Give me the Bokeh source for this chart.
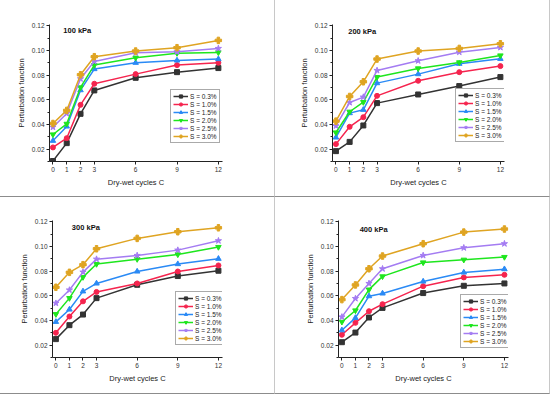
from bokeh.plotting import figure
from bokeh.layouts import column, row
from bokeh.models import Range1d, FixedTicker, Legend, LegendItem, Label, NumeralTickFormatter
from bokeh.embed import file_html
from bokeh.resources import INLINE

# ---------------- data ----------------
cycles = [0, 1, 2, 3, 6, 9, 12]
cycle_ticks = [0, 1, 2, 3, 6, 9, 12]
y_ticks = [0.02, 0.04, 0.06, 0.08, 0.10, 0.12]
series_labels = ["S = 0.3%", "S = 1.0%", "S = 1.5%", "S = 2.0%", "S = 2.5%", "S = 3.0%"]
panel_titles = ["100 kPa", "200 kPa", "300 kPa", "400 kPa"]

kpa100_s03 = [0.0104, 0.0249, 0.0486, 0.0676, 0.0778, 0.0824, 0.0857]
kpa100_s10 = [0.0214, 0.0289, 0.0559, 0.0730, 0.0808, 0.0881, 0.0900]
kpa100_s15 = [0.0268, 0.0384, 0.0678, 0.0849, 0.0900, 0.0919, 0.0930]
kpa100_s20 = [0.0319, 0.0405, 0.0700, 0.0881, 0.0941, 0.0978, 0.0984]
kpa100_s25 = [0.0378, 0.0489, 0.0770, 0.0911, 0.0981, 0.0989, 0.1016]
kpa100_s30 = [0.0408, 0.0514, 0.0803, 0.0949, 0.0995, 0.1022, 0.1081]

kpa200_s03 = [0.0184, 0.0259, 0.0392, 0.0573, 0.0643, 0.0711, 0.0784]
kpa200_s10 = [0.0241, 0.0381, 0.0459, 0.0632, 0.0754, 0.0824, 0.0873]
kpa200_s15 = [0.0295, 0.0492, 0.0519, 0.0735, 0.0808, 0.0892, 0.0932]
kpa200_s20 = [0.0335, 0.0503, 0.0581, 0.0784, 0.0854, 0.0903, 0.0959]
kpa200_s25 = [0.0389, 0.0578, 0.0622, 0.0838, 0.0916, 0.0986, 0.1024]
kpa200_s30 = [0.0427, 0.0627, 0.0746, 0.0930, 0.0995, 0.1016, 0.1054]

kpa300_s03 = [0.0249, 0.0362, 0.0448, 0.0581, 0.0689, 0.0760, 0.0803]
kpa300_s10 = [0.0300, 0.0432, 0.0555, 0.0631, 0.0700, 0.0797, 0.0846]
kpa300_s15 = [0.0389, 0.0489, 0.0636, 0.0700, 0.0797, 0.0857, 0.0900]
kpa300_s20 = [0.0451, 0.0581, 0.0751, 0.0857, 0.0897, 0.0935, 0.0995]
kpa300_s25 = [0.0540, 0.0647, 0.0792, 0.0897, 0.0927, 0.0970, 0.1046]
kpa300_s30 = [0.0669, 0.0790, 0.0852, 0.0981, 0.1065, 0.1119, 0.1151]

kpa400_s03 = [0.0224, 0.0302, 0.0424, 0.0502, 0.0622, 0.0681, 0.0700]
kpa400_s10 = [0.0284, 0.0381, 0.0475, 0.0532, 0.0678, 0.0749, 0.0770]
kpa400_s15 = [0.0321, 0.0421, 0.0597, 0.0619, 0.0716, 0.0789, 0.0816]
kpa400_s20 = [0.0389, 0.0481, 0.0650, 0.0757, 0.0870, 0.0892, 0.0914]
kpa400_s25 = [0.0429, 0.0578, 0.0700, 0.0819, 0.0927, 0.0989, 0.1022]
kpa400_s30 = [0.0569, 0.0688, 0.0819, 0.0922, 0.1022, 0.1116, 0.1141]

# ---------------- style ----------------
FONT = "Liberation Sans"
colors = ["#333333", "#f5244e", "#2a8af5", "#1ee61e", "#a47cf2", "#dfa422"]
markers = ["square", "circle", "triangle", "inverted_triangle", "star", "plus"]
sizes = [5, 5, 5.5, 5.5, 6.5, 6.5]

panels_data = [
    [kpa100_s03, kpa100_s10, kpa100_s15, kpa100_s20, kpa100_s25, kpa100_s30],
    [kpa200_s03, kpa200_s10, kpa200_s15, kpa200_s20, kpa200_s25, kpa200_s30],
    [kpa300_s03, kpa300_s10, kpa300_s15, kpa300_s20, kpa300_s25, kpa300_s30],
    [kpa400_s03, kpa400_s10, kpa400_s15, kpa400_s20, kpa400_s25, kpa400_s30],
]

# per-panel layout: size, (left, right, top, bottom) borders, title pos (data), legend offset (screen)
layouts = [
    dict(wh=(275, 197), b=(49, 53, 24, 36), t=(0.75, 0.1165), lg=(121, 18)),
    dict(wh=(275, 197), b=(57, 46, 24, 36), t=(0.9, 0.1151), lg=(123, 19)),
    dict(wh=(275, 197), b=(52, 53, 23, 37), t=(1.18, 0.1154), lg=(123, 12)),
    dict(wh=(275, 197), b=(63, 42, 23, 37), t=(1.31, 0.1140), lg=(122, 9)),
]
LIGHT = "1px solid #c8c8c8"
DARK = "1px solid #8c8c8c"
outlines = [
    {"border-right": LIGHT, "border-bottom": DARK},
    {"border-right": LIGHT, "border-bottom": DARK},
    {"border-right": LIGHT, "border-bottom": DARK},
    {"border-right": LIGHT, "border-bottom": DARK},
]


def make_panel(i):
    lay = layouts[i]
    w, h = lay["wh"]
    l, r, t, b = lay["b"]
    p = figure(width=w, height=h, output_backend="svg", toolbar_location=None,
               x_range=Range1d(-0.25, 12.3), y_range=Range1d(0.01, 0.121),
               min_border_left=l, min_border_right=r, min_border_top=t, min_border_bottom=b,
               background_fill_color="white", border_fill_color="white")
    p.styles = dict(outlines[i], **{"box-sizing": "border-box"})
    p.outline_line_color = None
    p.grid.visible = False
    p.xaxis.ticker = FixedTicker(ticks=cycle_ticks)
    p.yaxis.ticker = FixedTicker(ticks=y_ticks, minor_ticks=[0.01, 0.03, 0.05, 0.07, 0.09, 0.11])
    p.yaxis.formatter = NumeralTickFormatter(format="0.00")
    p.xaxis.axis_label = "Dry-wet cycles C"
    p.yaxis.axis_label = "Perturbation function"
    for ax in (p.xaxis, p.yaxis):
        ax.axis_line_color = "#222222"
        ax.axis_line_width = 1
        ax.major_tick_line_color = "#222222"
        ax.minor_tick_line_color = "#222222"
        ax.major_tick_out = 3
        ax.major_tick_in = 0
        ax.minor_tick_out = 2
        ax.minor_tick_in = 0
        ax.major_label_text_font = FONT
        ax.major_label_text_font_size = "6.5px"
        ax.major_label_text_color = "#333333"
        ax.major_label_standoff = 2
        ax.axis_label_text_font = FONT
        ax.axis_label_text_font_size = "7.5px"
        ax.axis_label_text_font_style = "normal"
        ax.axis_label_text_color = "#222222"
    p.xaxis.axis_label_standoff = 3
    p.yaxis.axis_label_standoff = 3
    p.xaxis.minor_tick_line_color = None

    items = []
    for k in range(6):
        ys = panels_data[i][k]
        ln = p.line(cycles, ys, line_color=colors[k], line_width=1.5)
        sc = p.scatter(cycles, ys, marker=markers[k], size=sizes[k],
                       fill_color=colors[k], line_color=colors[k])
        items.append(LegendItem(label=series_labels[k], renderers=[ln, sc]))
    legend = Legend(items=items, location=lay["lg"], orientation="vertical",
                    label_text_font=FONT, label_text_font_size="6.5px",
                    label_text_color="#222222",
                    glyph_width=15, glyph_height=8, label_height=8, label_standoff=2,
                    spacing=0, padding=2, margin=0,
                    border_line_color="#555555", border_line_width=1,
                    background_fill_alpha=1.0)
    p.add_layout(legend, "center")

    tx, ty = lay["t"]
    p.add_layout(Label(x=tx, y=ty, text=panel_titles[i], text_font=FONT,
                       text_font_size="7.5px", text_font_style="bold",
                       text_color="#111111", text_baseline="middle", text_align="left"))
    return p


plots = [make_panel(i) for i in range(4)]
page = column(row(plots[0], plots[1], spacing=0), row(plots[2], plots[3], spacing=0), spacing=0)

open("out.html", "w").write(file_html(page, INLINE))
